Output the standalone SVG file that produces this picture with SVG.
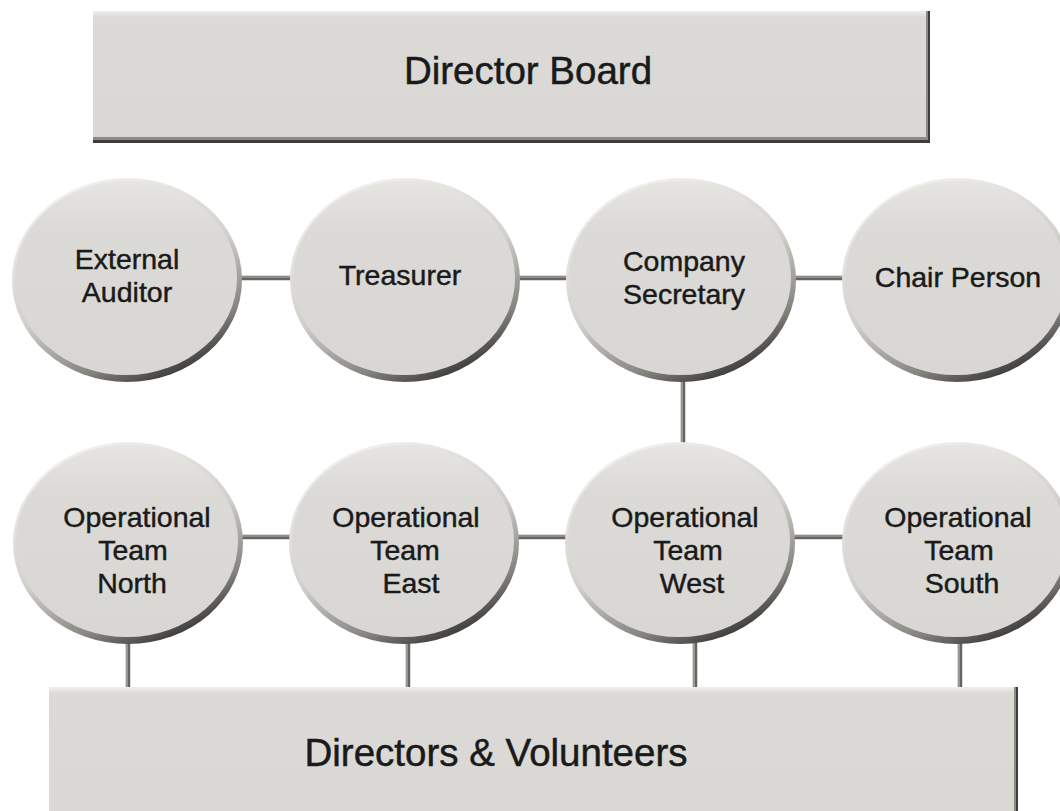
<svg xmlns="http://www.w3.org/2000/svg" width="1060" height="811" viewBox="0 0 1060 811">
  <defs>
    <linearGradient id="rim" x1="0.25" y1="0" x2="0.75" y2="1">
      <stop offset="0" stop-color="#f3f2f0"/>
      <stop offset="0.5" stop-color="#d2d0cc"/>
      <stop offset="0.8" stop-color="#858380"/>
      <stop offset="1" stop-color="#2a2826"/>
    </linearGradient>
    <linearGradient id="face" x1="0" y1="0" x2="0" y2="1">
      <stop offset="0" stop-color="#e6e5e2"/>
      <stop offset="0.25" stop-color="#dcdad6"/>
      <stop offset="1" stop-color="#d9d7d3"/>
    </linearGradient>
    <linearGradient id="boxface" x1="0" y1="0" x2="0" y2="1">
      <stop offset="0" stop-color="#f0efed"/>
      <stop offset="0.05" stop-color="#dcdad6"/>
      <stop offset="1" stop-color="#dad8d4"/>
    </linearGradient>
    <style>
      .conn { stroke: #676561; stroke-width: 4.5; fill: none; }
      .connhl { stroke: #b9b7b3; stroke-width: 1.2; fill: none; }
      .rim { fill: url(#rim); }
      .face { fill: url(#face); }
      .boxdark { fill: #3f3d3a; }
      .boxmid { fill: #8d8b87; }
      .boxface { fill: url(#boxface); }
      .lbl { font-family: "Liberation Sans", Arial, sans-serif; font-size: 28.5px; fill: #1a1a1a; stroke: #1a1a1a; stroke-width: 0.45; text-anchor: middle; }
      .big { font-family: "Liberation Sans", Arial, sans-serif; font-size: 38.5px; fill: #1a1a1a; stroke: #1a1a1a; stroke-width: 0.5; text-anchor: middle; }
    </style>
  </defs>
  <rect width="1060" height="811" fill="#ffffff"/>

  <g id="connectors">
    <line class="conn" x1="127" y1="278" x2="957" y2="278"/>
    <line class="connhl" x1="127" y1="277" x2="957" y2="277"/>
    <line class="conn" x1="683" y1="280" x2="683" y2="543"/>
    <line class="connhl" x1="682" y1="280" x2="682" y2="543"/>
    <line class="conn" x1="128" y1="537" x2="957" y2="537"/>
    <line class="connhl" x1="128" y1="536" x2="957" y2="536"/>
    <line class="conn" x1="128" y1="543" x2="128" y2="690"/>
    <line class="connhl" x1="127" y1="543" x2="127" y2="690"/>
    <line class="conn" x1="408" y1="543" x2="408" y2="690"/>
    <line class="connhl" x1="407" y1="543" x2="407" y2="690"/>
    <line class="conn" x1="695" y1="543" x2="695" y2="690"/>
    <line class="connhl" x1="694" y1="543" x2="694" y2="690"/>
    <line class="conn" x1="960" y1="543" x2="960" y2="690"/>
    <line class="connhl" x1="959" y1="543" x2="959" y2="690"/>
  </g>

  <g id="director-board">
    <rect class="boxdark" x="93" y="11" width="837" height="132"/>
    <rect class="boxmid" x="93" y="11" width="835" height="129"/>
    <rect class="boxface" x="93" y="11" width="833" height="126"/>
    <text class="big" x="528" y="84">Director Board</text>
  </g>

  <g id="external-auditor">
    <ellipse class="rim" cx="127" cy="280" rx="115" ry="102"/>
    <ellipse class="face" cx="126" cy="278" rx="111" ry="97"/>
    <text class="lbl" x="127" y="269">External</text>
    <text class="lbl" x="127" y="302">Auditor</text>
  </g>

  <g id="treasurer">
    <ellipse class="rim" cx="405" cy="280" rx="115" ry="102"/>
    <ellipse class="face" cx="404" cy="278" rx="111" ry="97"/>
    <text class="lbl" x="400" y="285">Treasurer</text>
  </g>

  <g id="company-secretary">
    <ellipse class="rim" cx="681" cy="280" rx="115" ry="102"/>
    <ellipse class="face" cx="680" cy="278" rx="111" ry="97"/>
    <text class="lbl" x="684" y="271">Company</text>
    <text class="lbl" x="684" y="304">Secretary</text>
  </g>

  <g id="chair-person">
    <ellipse class="rim" cx="957" cy="280" rx="115" ry="102"/>
    <ellipse class="face" cx="956" cy="278" rx="111" ry="97"/>
    <text class="lbl" x="958" y="287">Chair Person</text>
  </g>

  <g id="op-team-north">
    <ellipse class="rim" cx="128" cy="543" rx="115" ry="101"/>
    <ellipse class="face" cx="127" cy="541" rx="111" ry="96"/>
    <text class="lbl" x="137" y="527">Operational</text>
    <text class="lbl" x="133" y="560">Team</text>
    <text class="lbl" x="132" y="593">North</text>
  </g>

  <g id="op-team-east">
    <ellipse class="rim" cx="404" cy="543" rx="115" ry="101"/>
    <ellipse class="face" cx="403" cy="541" rx="111" ry="96"/>
    <text class="lbl" x="406" y="527">Operational</text>
    <text class="lbl" x="405" y="560">Team</text>
    <text class="lbl" x="411" y="593">East</text>
  </g>

  <g id="op-team-west">
    <ellipse class="rim" cx="680" cy="543" rx="115" ry="101"/>
    <ellipse class="face" cx="679" cy="541" rx="111" ry="96"/>
    <text class="lbl" x="685" y="527">Operational</text>
    <text class="lbl" x="688" y="560">Team</text>
    <text class="lbl" x="692" y="593">West</text>
  </g>

  <g id="op-team-south">
    <ellipse class="rim" cx="957" cy="543" rx="115" ry="101"/>
    <ellipse class="face" cx="956" cy="541" rx="111" ry="96"/>
    <text class="lbl" x="958" y="527">Operational</text>
    <text class="lbl" x="959" y="560">Team</text>
    <text class="lbl" x="962" y="593">South</text>
  </g>

  <g id="directors-volunteers">
    <rect class="boxdark" x="49" y="687" width="969" height="130"/>
    <rect class="boxmid" x="49" y="687" width="967" height="130"/>
    <rect class="boxface" x="49" y="687" width="965" height="130"/>
    <text class="big" x="496" y="766">Directors &amp; Volunteers</text>
  </g>
</svg>
